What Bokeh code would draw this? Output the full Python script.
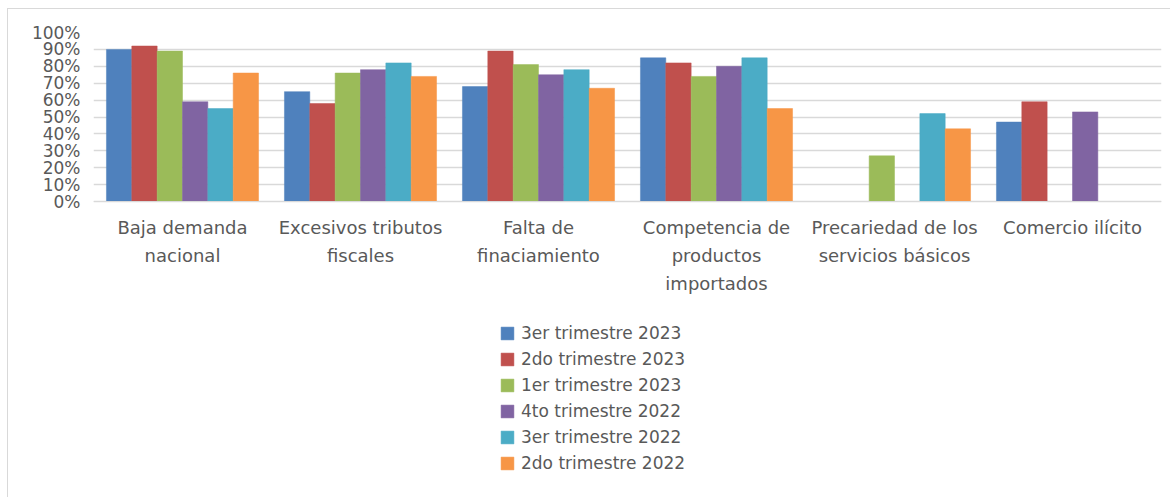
from bokeh.plotting import figure
from bokeh.models import (Legend, LegendItem, FactorRange, Range1d, FixedTicker,
                          PrintfTickFormatter, ColumnDataSource)
from bokeh.transform import dodge
from bokeh.embed import file_html
from bokeh.resources import INLINE
import numpy as np

categories = ["Baja demanda\nnacional", "Excesivos tributos\nfiscales", "Falta de\nfinaciamiento",
              "Competencia de\nproductos\nimportados", "Precariedad de los\nservicios básicos",
              "Comercio ilícito"]
series_names = ["3er trimestre 2023", "2do trimestre 2023", "1er trimestre 2023",
                "4to trimestre 2022", "3er trimestre 2022", "2do trimestre 2022"]
t3_2023 = [90, 65, 68, 85, np.nan, 47]
t2_2023 = [92, 58, 89, 82, np.nan, 59]
t1_2023 = [89, 76, 81, 74, 27, np.nan]
t4_2022 = [59, 78, 75, 80, np.nan, 53]
t3_2022 = [55, 82, 78, 85, 52, np.nan]
t2_2022 = [76, 74, 67, 55, 43, np.nan]
y_ticks = list(range(0, 101, 10))

colors = ["#4F81BD", "#C0504D", "#9BBB59", "#8064A2", "#4BACC6", "#F79646"]
series = [t3_2023, t2_2023, t1_2023, t4_2022, t3_2022, t2_2022]
keys = ["s0", "s1", "s2", "s3", "s4", "s5"]

data = {"cat": categories}
for k, s in zip(keys, series):
    data[k] = s
src = ColumnDataSource(data)

FONT = "DejaVu Sans"
TXT = "#595959"

# frame spans from the 100% line down to the bottom of the picture, so the
# legend (drawn inside the frame) can sit below the category labels
FRAME_H = 466          # px
PLOT_H = 169           # px between 0% and 100%
y_start = -100.0 * (FRAME_H - PLOT_H) / PLOT_H

p = figure(x_range=FactorRange(*categories), y_range=Range1d(y_start, 100),
           width=1163, height=489,
           output_backend="svg", toolbar_location=None,
           min_border_left=85, min_border_right=10, min_border_top=23, min_border_bottom=0)
p.outline_line_color = None
p.background_fill_color = "white"
p.border_fill_color = "white"
p.styles = {"margin-left": "7px", "margin-top": "8px",
            "border-left": "1px solid #d9d9d9", "border-top": "1px solid #d9d9d9"}

bw = 0.1424
items = []
for i, (k, c, name) in enumerate(zip(keys, colors, series_names)):
    off = (i - 2.5) * bw
    r = p.vbar(x=dodge("cat", off, range=p.x_range), top=k, bottom=0, width=bw,
               source=src, fill_color=c, line_color=c, line_alpha=0.5)
    items.append(LegendItem(label=name, renderers=[r]))

p.xgrid.grid_line_color = None
p.ygrid.grid_line_color = "#d9d9d9"
p.ygrid.grid_line_width = 1.3
p.ygrid.ticker = FixedTicker(ticks=y_ticks)

p.yaxis.ticker = FixedTicker(ticks=y_ticks)
p.yaxis.formatter = PrintfTickFormatter(format="%d%%")
p.yaxis.axis_line_color = None
p.yaxis.major_tick_line_color = None
p.yaxis.minor_tick_line_color = None
p.yaxis.major_tick_out = 0
p.yaxis.major_tick_in = 0
p.yaxis.major_label_text_font = FONT
p.yaxis.major_label_text_font_size = "17px"
p.yaxis.major_label_text_color = TXT
p.yaxis.major_label_standoff = 13

p.xaxis.fixed_location = 0
p.xaxis.axis_line_color = "#d9d9d9"
p.xaxis.major_tick_line_color = None
p.xaxis.minor_tick_line_color = None
p.xaxis.major_tick_out = 0
p.xaxis.major_tick_in = 0
p.xaxis.major_label_text_font = FONT
p.xaxis.major_label_text_font_size = "18px"
p.xaxis.major_label_text_color = TXT
p.xaxis.major_label_text_line_height = 1.35
p.xaxis.major_label_standoff = 15

legend = Legend(items=items, orientation="vertical", location=(406, 25))
legend.label_text_font = FONT
legend.label_text_font_size = "17px"
legend.label_text_color = TXT
legend.glyph_width = 16
legend.glyph_height = 16
legend.label_height = 20
legend.spacing = 6
legend.label_standoff = 6
legend.padding = 0
legend.margin = 0
legend.border_line_color = None
legend.background_fill_alpha = 0
p.add_layout(legend, "center")

open("out.html", "w").write(file_html(p, INLINE))
